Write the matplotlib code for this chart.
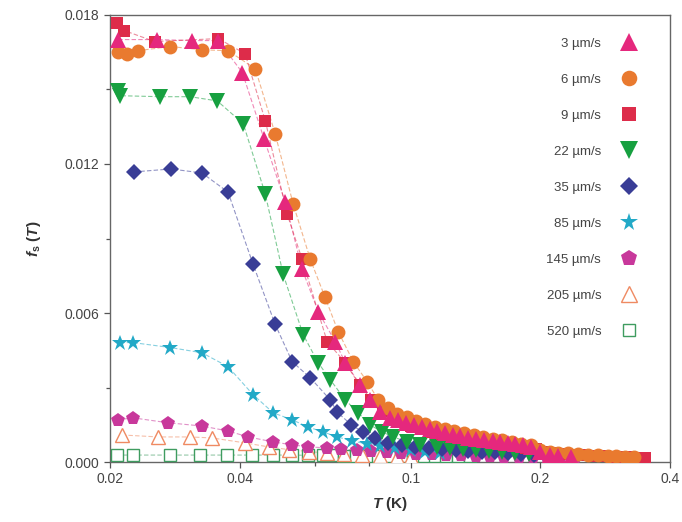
import matplotlib.pyplot as plt
from matplotlib.lines import Line2D
from matplotlib.ticker import FixedLocator, NullFormatter

plt.rcParams['font.family'] = ['Liberation Sans', 'DejaVu Sans']
plt.rcParams['mathtext.fontset'] = 'custom'
plt.rcParams['mathtext.rm'] = 'Liberation Sans'
plt.rcParams['mathtext.it'] = 'Liberation Sans:italic'
plt.rcParams['mathtext.bf'] = 'Liberation Sans:bold'
plt.rcParams['mathtext.bfit'] = 'Liberation Sans:italic:bold'

# speed labels, in legend order
speeds = ['3', '6', '9', '22', '35', '85', '145', '205', '520']

T_3 = [0.0209, 0.0257, 0.0310, 0.0357, 0.0406, 0.0456, 0.0511, 0.0559, 0.0609,
       0.0667, 0.0704, 0.0763, 0.0805, 0.0849, 0.0896, 0.0935, 0.0976, 0.1019,
       0.1063, 0.1110, 0.1152, 0.1200, 0.1250, 0.1303, 0.1360, 0.1420, 0.1480,
       0.1550, 0.1615, 0.1680, 0.1750, 0.1820, 0.1900, 0.2000, 0.2100, 0.2200,
       0.2350]
f_3 = [0.01701, 0.01701, 0.01697, 0.01697, 0.01568, 0.01301, 0.01046, 0.00776, 0.00606,
       0.00485, 0.00400, 0.00311, 0.00250, 0.00202, 0.00178, 0.00170, 0.00158, 0.00149,
       0.00141, 0.00133, 0.00125, 0.00117, 0.00109, 0.00103, 0.00097, 0.00091, 0.00087,
       0.00083, 0.00079, 0.00075, 0.00071, 0.00067, 0.00062, 0.00040, 0.00030, 0.00025,
       0.00020]

T_6 = [0.0209, 0.0219, 0.0232, 0.0276, 0.0327, 0.0376, 0.0435, 0.0484, 0.0533,
       0.0584, 0.0632, 0.0678, 0.0735, 0.0792, 0.0840, 0.0886, 0.0930, 0.0980,
       0.1030, 0.1080, 0.1140, 0.1200, 0.1260, 0.1330, 0.1400, 0.1470, 0.1550,
       0.1630, 0.1720, 0.1800, 0.1900, 0.2000, 0.2100, 0.2200, 0.2320, 0.2450,
       0.2580, 0.2720, 0.2870, 0.3000, 0.3150, 0.3300]
f_6 = [0.01652, 0.01644, 0.01656, 0.01673, 0.01660, 0.01656, 0.01584, 0.01321, 0.01038,
       0.00816, 0.00663, 0.00525, 0.00404, 0.00323, 0.00250, 0.00218, 0.00195, 0.00180,
       0.00165, 0.00152, 0.00142, 0.00132, 0.00123, 0.00115, 0.00108, 0.00100, 0.00093,
       0.00087, 0.00080, 0.00074, 0.00068, 0.00050, 0.00042, 0.00038, 0.00035, 0.00032,
       0.00030, 0.00028, 0.00026, 0.00024, 0.00022, 0.00020]

T_9 = [0.0208, 0.0216, 0.0254, 0.0357, 0.0412, 0.0459, 0.0516, 0.0559, 0.0639,
       0.0704, 0.0760, 0.0810, 0.0860, 0.0910, 0.0960, 0.1000, 0.1060, 0.1120,
       0.1180, 0.1250, 0.1320, 0.1400, 0.1480, 0.1560, 0.1650, 0.1750, 0.1850,
       0.1950, 0.2050, 0.2160, 0.2280, 0.2400, 0.2540, 0.2680, 0.2830, 0.3000,
       0.3170, 0.3350, 0.3500]
f_9 = [0.01766, 0.01737, 0.01693, 0.01705, 0.01644, 0.01374, 0.00998, 0.00816, 0.00485,
       0.00400, 0.00310, 0.00250, 0.00205, 0.00180, 0.00160, 0.00145, 0.00133, 0.00122,
       0.00112, 0.00103, 0.00095, 0.00088, 0.00082, 0.00076, 0.00070, 0.00064, 0.00058,
       0.00053, 0.00040, 0.00036, 0.00033, 0.00030, 0.00028, 0.00026, 0.00024, 0.00022,
       0.00020, 0.00018, 0.00016]

T_22 = [0.0209, 0.0211, 0.0261, 0.0307, 0.0355, 0.0408, 0.0459, 0.0505, 0.0562,
        0.0609, 0.0650, 0.0704, 0.0755, 0.0805, 0.0858, 0.0910, 0.0981, 0.1052,
        0.1152, 0.1235, 0.1325, 0.1420, 0.1520, 0.1630, 0.1750, 0.1880]
f_22 = [0.01495, 0.01475, 0.01471, 0.01471, 0.01454, 0.01362, 0.01079, 0.00756, 0.00513,
        0.00400, 0.00331, 0.00250, 0.00198, 0.00149, 0.00121, 0.00101, 0.00081, 0.00069,
        0.00061, 0.00057, 0.00053, 0.00048, 0.00044, 0.00040, 0.00036, 0.00032]

T_35 = [0.0227, 0.0277, 0.0327, 0.0376, 0.0430, 0.0484, 0.0530, 0.0584, 0.0650,
        0.0675, 0.0727, 0.0775, 0.0827, 0.0886, 0.0955, 0.1024, 0.1100, 0.1180,
        0.1270, 0.1360, 0.1460, 0.1570, 0.1680, 0.1800, 0.1930]
f_35 = [0.01168, 0.01180, 0.01164, 0.01087, 0.00796, 0.00554, 0.00404, 0.00339, 0.00250,
        0.00200, 0.00150, 0.00120, 0.00097, 0.00077, 0.00069, 0.00061, 0.00056, 0.00052,
        0.00048, 0.00045, 0.00042, 0.00039, 0.00036, 0.00033, 0.00030]

T_85 = [0.0211, 0.0226, 0.0276, 0.0327, 0.0376, 0.0430, 0.0479, 0.0530, 0.0577,
        0.0626, 0.0675, 0.0730, 0.0790, 0.0850, 0.0920, 0.1000, 0.1080, 0.1170]
f_85 = [0.00481, 0.00481, 0.00461, 0.00440, 0.00384, 0.00271, 0.00198, 0.00170, 0.00141,
        0.00121, 0.00101, 0.00085, 0.00073, 0.00063, 0.00055, 0.00048, 0.00042, 0.00037]

T_145 = [0.0209, 0.0226, 0.0273, 0.0327, 0.0376, 0.0419, 0.0479, 0.0530, 0.0577,
         0.0639, 0.0690, 0.0750, 0.0810, 0.0880, 0.0950, 0.1030, 0.1120, 0.1210,
         0.1310, 0.1420, 0.1530, 0.1650, 0.1780, 0.1920, 0.2070, 0.2220, 0.2400]
f_145 = [0.00170, 0.00178, 0.00158, 0.00145, 0.00125, 0.00101, 0.00081, 0.00069, 0.00061,
         0.00057, 0.00052, 0.00048, 0.00044, 0.00040, 0.00037, 0.00034, 0.00031, 0.00029,
         0.00027, 0.00025, 0.00024, 0.00022, 0.00021, 0.00020, 0.00019, 0.00018, 0.00017]

T_205 = [0.0213, 0.0259, 0.0307, 0.0345, 0.0412, 0.0467, 0.0520, 0.0580, 0.0640,
         0.0700, 0.0770, 0.0850, 0.0930, 0.1000]
f_205 = [0.00109, 0.00101, 0.00101, 0.00097, 0.00077, 0.00061, 0.00050, 0.00042, 0.00036,
         0.00032, 0.00028, 0.00025, 0.00022, 0.00020]

T_520 = [0.0208, 0.0226, 0.0276, 0.0324, 0.0374, 0.0428, 0.0479, 0.0530, 0.0577,
         0.0626, 0.0657, 0.0700, 0.0745, 0.0790, 0.0840, 0.0890, 0.0950, 0.1010,
         0.1070, 0.1140, 0.1210, 0.1290, 0.1370]
f_520 = [0.00028, 0.00028, 0.00028, 0.00028, 0.00028, 0.00028, 0.00028, 0.00028, 0.00027,
         0.00027, 0.00027, 0.00026, 0.00026, 0.00026, 0.00026, 0.00025, 0.00025, 0.00025,
         0.00024, 0.00024, 0.00024, 0.00023, 0.00023]

x_ticks = [0.02, 0.04, 0.1, 0.2, 0.4]
x_minor = [0.06, 0.08]
y_ticks = [0.0, 0.006, 0.012, 0.018]

series = [
    (T_3, f_3, '^', 12, '#e5287d', True),
    (T_6, f_6, 'o', 10, '#e97a2f', True),
    (T_9, f_9, 's', 9, '#dd2c4a', True),
    (T_22, f_22, 'v', 11, '#17a040', True),
    (T_35, f_35, 'D', 8.5, '#393d96', True),
    (T_85, f_85, '*', 12, '#22a9c7', True),
    (T_145, f_145, 'p', 10.5, '#c8389b', True),
    (T_205, f_205, '^', 10, '#ef8a62', False),
    (T_520, f_520, 's', 8, '#3f9c60', False),
]

fig = plt.figure(figsize=(6.82, 5.22), dpi=100)
ax = fig.add_axes([0.1613, 0.1149, 0.8211, 0.8564])

handles = []
# draw the fastest speeds first so the slow ones sit on top
for i in reversed(range(len(series))):
    T, f, mk, ms, col, filled = series[i]
    ax.plot(T, f, color=col, lw=0.8, ls=(0, (4, 2)), alpha=0.55, zorder=2 + i)
    face = col if filled else 'white'
    ax.plot(T, f, ls='none', marker=mk, ms=ms, mfc=face, mec=col,
            mew=0 if filled else 1.0, zorder=20 - i)

for T, f, mk, ms, col, filled in series:
    handles.append(Line2D([], [], ls='none', marker=mk, ms=ms * 1.12,
                          mfc=col if filled else 'white', mec=col,
                          mew=0 if filled else 1.0))

ax.legend(handles, [s + ' \u00b5m/s' for s in speeds], loc='upper right',
          bbox_to_anchor=(0.962, 0.976), markerfirst=False, frameon=False,
          fontsize=9.5, labelspacing=1.8, handlelength=1.2, handletextpad=1.5,
          labelcolor='#444444')

ax.set_xscale('log')
ax.set_xlim(0.02, 0.4)
ax.set_ylim(0.0, 0.018)
ax.xaxis.set_major_locator(FixedLocator(x_ticks))
ax.xaxis.set_minor_locator(FixedLocator(x_minor))
ax.xaxis.set_minor_formatter(NullFormatter())
ax.set_xticklabels([str(t) for t in x_ticks])
ax.set_yticks(y_ticks)
ax.set_yticklabels(['%.3f' % v for v in y_ticks])
ax.set_yticks([0.003, 0.009, 0.015], minor=True)

ax.tick_params(which='both', direction='out', color='#555555', labelcolor='#444444',
               labelsize=10, width=0.9)
ax.tick_params(which='major', length=4)
ax.tick_params(which='minor', length=3)
for sp in ax.spines.values():
    sp.set_color('#666666')
    sp.set_linewidth(1.0)

ax.set_xlabel(r'$\mathbfit{T}$ (K)', fontsize=11, fontweight='bold', color='#333333',
              labelpad=6)
ax.set_ylabel(r'$\mathbfit{f}_{\mathbf{s}}$ ($\mathbfit{T}$)', fontsize=11,
              fontweight='bold', color='#333333', labelpad=16)

fig.savefig('out.png', dpi=100)
